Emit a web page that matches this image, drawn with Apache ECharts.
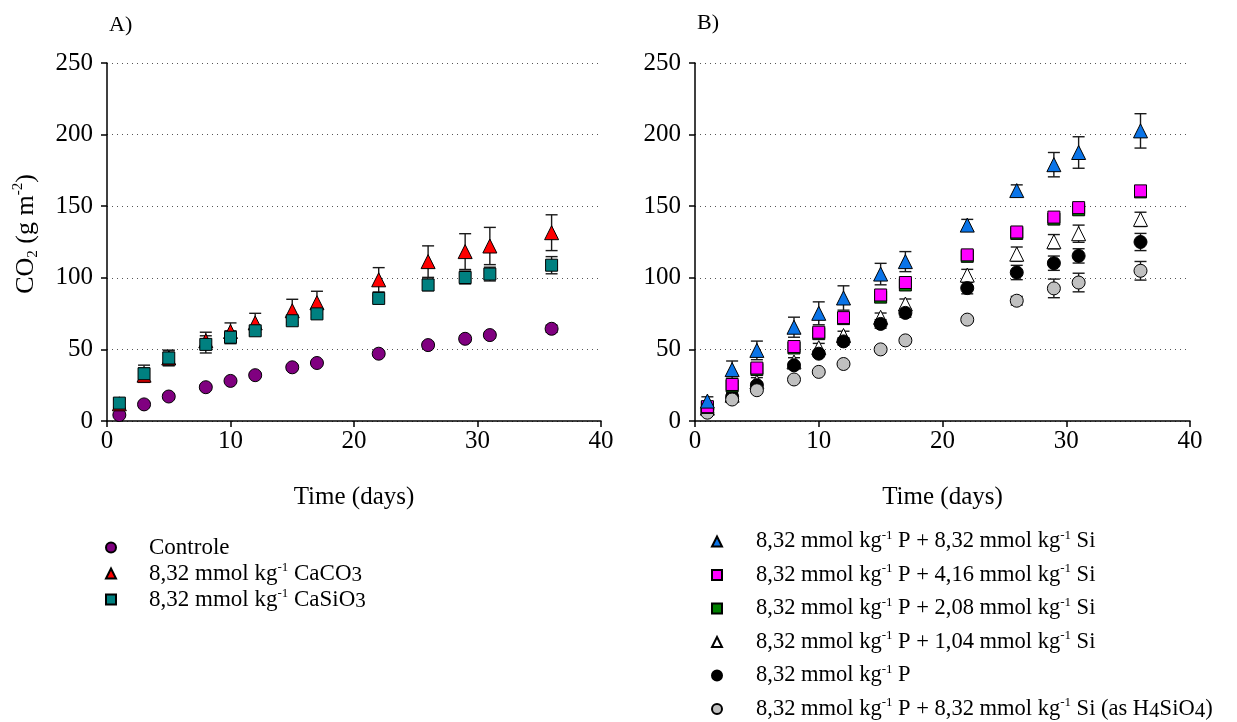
<!DOCTYPE html>
<html>
<head>
<meta charset="utf-8">
<script src="https://cdn.jsdelivr.net/npm/echarts@6/dist/echarts.min.js"></script>
<style>html,body{margin:0;padding:0;background:#fff}#c{width:1237px;height:722px}</style>
</head>
<body>
<div id="c"></div>
<script>
// ---- data ----
const days = [1, 3, 5, 8, 10, 12, 15, 17, 22, 26, 29, 31, 36];
const yTicks = [0, 50, 100, 150, 200, 250];
const xTicks = [0, 10, 20, 30, 40];

// Panel A
const controle     = [4.2, 11.6, 17.1, 23.6, 28, 32, 37.5, 40.5, 47, 53, 57.4, 60, 64.4];
const controleErr  = [1.5, 1.5, 1.5, 1.5, 1.5, 1.5, 1.5, 1.5, 1.5, 2, 2, 2, 2.5];
const caco3        = [12, 32, 44, 56, 62.5, 68.5, 77, 82.6, 98.6, 111.3, 118.3, 122.2, 131.5];
const caco3Err     = [3, 5, 5, 6, 6, 6.7, 8, 8, 8.5, 11, 12.5, 13, 12.5];
const casio3       = [12.5, 33, 44, 53.5, 58.5, 63, 70, 74.8, 85.6, 95, 100.2, 102.6, 108.8];
const casio3Err    = [3, 6, 5.5, 6, 4.5, 3, 2.5, 2.5, 2, 4, 4.5, 4.8, 6];

// Panel B
const pSi832       = [13.9, 35.9, 49.3, 65.5, 75.2, 85.9, 102.6, 111.3, 136.8, 160.9, 179, 187.5, 202.6];
const pSi832Err    = [3, 6, 6.5, 7, 8, 8.5, 7.5, 7, 4, 4, 8.5, 11, 12];
const pSi416       = [10, 25.5, 37, 52, 62, 72.2, 88, 96.7, 116, 132, 142.4, 149, 160.7];
const pSi416Err    = [2, 2, 2, 2, 2, 2.5, 2.5, 2.5, 2.5, 2.5, 2.5, 2.5, 2.5];
const pSi208       = [9.5, 24.5, 36, 51, 61, 71.5, 86.5, 95, 115, 131, 141, 147.5, 160];
const pSi208Err    = [2, 2, 2, 2, 2, 2, 2, 2, 2, 2, 2, 2, 2];
const pSi104       = [9, 18, 27.3, 41.2, 51.2, 59.7, 72.4, 81.7, 101.9, 116.5, 125.2, 130.8, 140.8];
const pSi104Err    = [2, 2, 3, 3, 3, 3, 3, 3.5, 4, 5, 5, 6, 5];
const pOnly        = [8, 17, 25, 38.9, 47, 55.6, 67.8, 75.5, 92.8, 103.7, 110.2, 115.3, 125];
const pOnlyErr     = [1.5, 2, 2, 2, 2, 2.5, 3, 3, 4, 5, 5, 5, 6];
const pH4SiO4      = [5.8, 15, 21.5, 29, 34.3, 39.8, 50, 56.3, 70.8, 84, 92.6, 96.7, 104.9];
const pH4SiO4Err   = [1.5, 1.5, 1.5, 1.5, 1.5, 1.5, 1.5, 1.5, 1.5, 3, 6.5, 6.5, 6.5];

const namesA = ['Controle', '8,32 mmol kg-1 CaCO3', '8,32 mmol kg-1 CaSiO3'];
const namesB = [
  '8,32 mmol kg-1 P + 8,32 mmol kg-1 Si',
  '8,32 mmol kg-1 P + 4,16 mmol kg-1 Si',
  '8,32 mmol kg-1 P + 2,08 mmol kg-1 Si',
  '8,32 mmol kg-1 P + 1,04 mmol kg-1 Si',
  '8,32 mmol kg-1 P',
  '8,32 mmol kg-1 P + 8,32 mmol kg-1 Si (as H4SiO4)'
];

// ---- helpers ----
const FONT = 'Liberation Serif';
function pts(vals, errs) { return days.map((d, i) => [d, vals[i], errs[i]]); }
function errRender(params, api) {
  const x = api.value(0), y = api.value(1), e = api.value(2);
  const hi = api.coord([x, y + e]);
  const lo = api.coord([x, y - e]);
  const w = 6;
  const st = { stroke: '#1a1a1a', lineWidth: 1.4 };
  return {
    type: 'group',
    children: [
      { type: 'line', shape: { x1: hi[0], y1: hi[1], x2: lo[0], y2: lo[1] }, style: st },
      { type: 'line', shape: { x1: hi[0] - w, y1: hi[1], x2: hi[0] + w, y2: hi[1] }, style: st },
      { type: 'line', shape: { x1: lo[0] - w, y1: lo[1], x2: lo[0] + w, y2: lo[1] }, style: st }
    ]
  };
}
function fmtName(n) {
  return '{gap|}' + n.replace(/kg-1/g, 'kg{sup|-1}')
          .replace('CaCO3', 'CaCO{sub|3}')
          .replace('CaSiO3', 'CaSiO{sub|3}')
          .replace('H4SiO4', 'H{sub|4}SiO{sub|4}');
}
function richLegend(gapW) {
  return {
    gap: { width: gapW },
    sup: { fontFamily: FONT, fontSize: 13, lineHeight: 13, verticalAlign: 'top', color: '#000' },
    sub: { fontFamily: FONT, fontSize: 21, lineHeight: 21, verticalAlign: 'bottom', color: '#000' }
  };
}

const series = [];
function addSeries(name, vals, errs, gi, symbol, size, color) {
  series.push({
    type: 'custom', name: name + ' err', xAxisIndex: gi, yAxisIndex: gi,
    renderItem: errRender, data: pts(vals, errs), encode: { x: 0, y: 1 }, z: 2, silent: true
  });
  series.push({
    type: 'scatter', name: name, xAxisIndex: gi, yAxisIndex: gi,
    data: days.map((d, i) => [d, vals[i]]),
    symbol: symbol, symbolSize: size, z: 3,
    itemStyle: { color: color, borderColor: '#000', borderWidth: 1, opacity: 1 }
  });
}
addSeries(namesA[0], controle, controleErr, 0, 'circle', 13, '#800080');
addSeries(namesA[1], caco3, caco3Err, 0, 'triangle', 14, '#FF0000');
addSeries(namesA[2], casio3, casio3Err, 0, 'rect', 12, '#008080');

addSeries(namesB[3], pSi104, pSi104Err, 1, 'triangle', 14, '#FFFFFF');
addSeries(namesB[4], pOnly, pOnlyErr, 1, 'circle', 13, '#000000');
addSeries(namesB[5], pH4SiO4, pH4SiO4Err, 1, 'circle', 13, '#C0C0C0');
addSeries(namesB[2], pSi208, pSi208Err, 1, 'rect', 12, '#008000');
addSeries(namesB[1], pSi416, pSi416Err, 1, 'rect', 12, '#FF00FF');
addSeries(namesB[0], pSi832, pSi832Err, 1, 'triangle', 14, '#0A74E8');

function xAxis(gi) {
  return {
    type: 'value', gridIndex: gi, min: xTicks[0], max: xTicks[xTicks.length - 1], interval: 10,
    name: 'Time (days)', nameLocation: 'middle', nameGap: 64,
    nameTextStyle: { fontFamily: FONT, fontSize: 25, color: '#000' },
    axisLine: { lineStyle: { color: '#000', width: 1.5 } },
    axisTick: { inside: false, length: 6, lineStyle: { color: '#000', width: 1.5 } },
    axisLabel: { fontFamily: FONT, fontSize: 25, color: '#000', margin: 8 },
    splitLine: { show: false }
  };
}
function yAxis(gi) {
  return {
    type: 'value', gridIndex: gi, min: yTicks[0], max: yTicks[yTicks.length - 1], interval: 50,
    name: gi === 0 ? 'CO{sub|2} (g m{sup|-2})' : '',
    nameLocation: 'middle', nameGap: 66, nameRotate: 90,
    nameTextStyle: {
      fontFamily: FONT, fontSize: 26, color: '#000', lineHeight: 30, padding: [0, 0, 0, 16],
      rich: {
        sub: { fontFamily: FONT, fontSize: 15, lineHeight: 15, verticalAlign: 'bottom', color: '#000' },
        sup: { fontFamily: FONT, fontSize: 15, lineHeight: 15, verticalAlign: 'top', color: '#000' }
      }
    },
    axisLine: { show: true, lineStyle: { color: '#000', width: 1.5 } },
    axisTick: { show: true, inside: false, length: 6, lineStyle: { color: '#000', width: 1.5 } },
    axisLabel: { fontFamily: FONT, fontSize: 25, color: '#000', margin: 14 },
    splitLine: { show: true, lineStyle: { color: '#555', width: 1, type: [1, 4] } }
  };
}

const option = {
  backgroundColor: '#fff',
  animation: false,
  title: [
    { text: 'A)', left: 104, top: 9, textStyle: { fontFamily: FONT, fontSize: 22, fontWeight: 'normal', color: '#000' } },
    { text: 'B)', left: 692, top: 7, textStyle: { fontFamily: FONT, fontSize: 22, fontWeight: 'normal', color: '#000' } }
  ],
  grid: [
    { left: 107, width: 494, top: 63, height: 358 },
    { left: 695, width: 495, top: 63, height: 358 }
  ],
  xAxis: [xAxis(0), xAxis(1)],
  yAxis: [yAxis(0), yAxis(1)],
  legend: [
    {
      data: namesA, orient: 'vertical', left: 105, top: 535, padding: 0,
      itemWidth: 10, itemHeight: 10, itemGap: 1, selectedMode: false,
      formatter: fmtName,
      textStyle: { fontFamily: FONT, fontSize: 23, color: '#000', lineHeight: 25, rich: richLegend(28) }
    },
    {
      data: namesB, orient: 'vertical', left: 711, top: 529, padding: 0,
      itemWidth: 10, itemHeight: 10, itemGap: 8.5, selectedMode: false,
      formatter: fmtName,
      textStyle: { fontFamily: FONT, fontSize: 22.5, color: '#000', lineHeight: 25, rich: richLegend(29) }
    }
  ],
  series: series
};

const chart = echarts.init(document.getElementById('c'), null, { renderer: 'canvas' });
chart.setOption(option);
</script>
</body>
</html>
